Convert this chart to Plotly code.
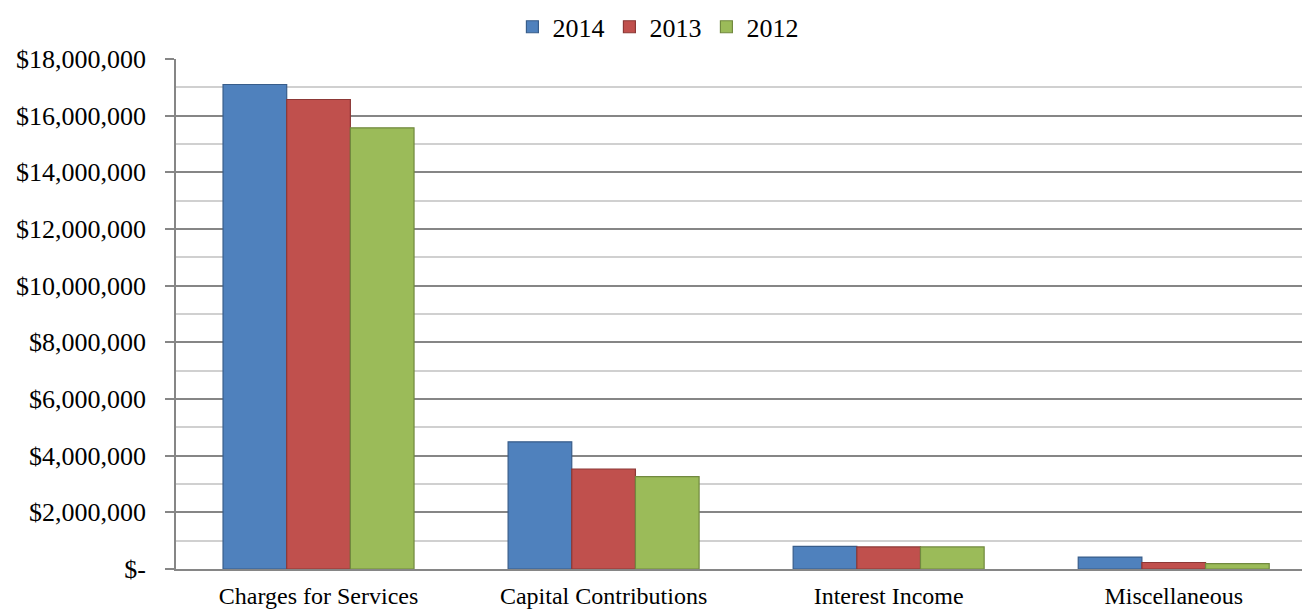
import plotly.graph_objects as go

categories = ["Charges for Services", "Capital Contributions", "Interest Income", "Miscellaneous"]
years = ["2014", "2013", "2012"]
values_2014 = [17100000, 4490000, 800000, 420000]
values_2013 = [16570000, 3530000, 780000, 230000]
values_2012 = [15570000, 3260000, 780000, 190000]
tick_vals = [0, 2000000, 4000000, 6000000, 8000000, 10000000, 12000000, 14000000, 16000000, 18000000]
tick_text = ["$-", "$2,000,000", "$4,000,000", "$6,000,000", "$8,000,000", "$10,000,000",
             "$12,000,000", "$14,000,000", "$16,000,000", "$18,000,000"]

fills = ["#4F81BD", "#C0504D", "#9BBB59"]
borders = ["#385D8A", "#8C3836", "#71893F"]
series = [values_2014, values_2013, values_2012]

fig = go.Figure()
for name, vals, fc, bc in zip(years, series, fills, borders):
    fig.add_trace(go.Bar(x=categories, y=vals, name=name,
                         marker=dict(color=fc, line=dict(color=bc, width=1.2))))

font = "Liberation Serif, Times New Roman, serif"
fig.update_layout(
    width=1302, height=610,
    barmode="group", bargap=0.33, bargroupgap=0,
    plot_bgcolor="white", paper_bgcolor="white",
    margin=dict(l=176, r=0, t=59, b=41),
    font=dict(family=font, size=24, color="black"),
    legend=dict(orientation="h", x=0.428, xanchor="center", y=1.063, yanchor="middle",
                font=dict(size=26), itemwidth=30, traceorder="normal"),
    xaxis=dict(range=[-0.5, 3.45], showgrid=False, showline=True, linecolor="#868686",
               linewidth=1.5, ticks="", tickfont=dict(size=24), ticklabelstandoff=4),
    yaxis=dict(range=[0, 18000000], tickvals=tick_vals, ticktext=tick_text,
               showgrid=True, gridcolor="#868686", gridwidth=1.5,
               showline=True, linecolor="#868686", linewidth=1.8,
               ticks="outside", ticklen=9, tickcolor="#868686", tickwidth=1.5,
               tickfont=dict(size=26), ticklabelstandoff=14, zeroline=False,
               minor=dict(dtick=1000000, showgrid=True, gridcolor="#D0D0D0", gridwidth=1.5,
                          ticks="")),
)
fig.write_html("out.html")
